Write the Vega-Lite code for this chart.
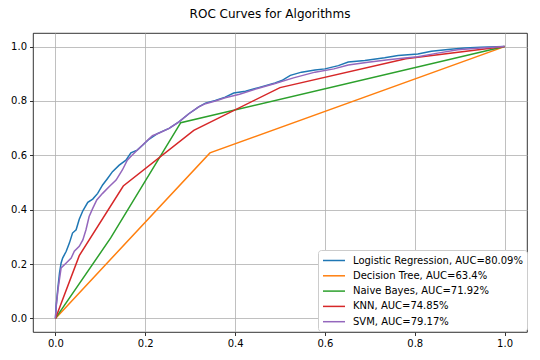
{
  "$schema": "https://vega.github.io/schema/vega-lite/v6.json",
  "autosize": "none",
  "width": 494,
  "height": 299,
  "padding": {"left": 33, "top": 33, "right": 13, "bottom": 28},
  "background": "white",
  "title": {"text": "ROC Curves for Algorithms", "font": "DejaVu Sans", "fontSize": 12, "fontWeight": "normal", "color": "black", "offset": 12, "anchor": "middle", "dx": -10},
  "config": {
    "view": {"stroke": "black", "strokeWidth": 0.8},
    "axis": {"domain": false, "grid": true, "gridColor": "#b0b0b0", "gridWidth": 0.8, "ticks": true, "tickColor": "black", "tickSize": 3.5, "tickWidth": 0.8, "labelFont": "DejaVu Sans", "labelFontSize": 10, "labelColor": "black", "title": null, "labelPadding": 3}
  },
  "data": {"values": [
    {"m":"Logistic Regression, AUC=80.09%","i":0,"x":0,"y":0},
    {"m":"Logistic Regression, AUC=80.09%","i":1,"x":0.0015,"y":0.045},
    {"m":"Logistic Regression, AUC=80.09%","i":2,"x":0.005,"y":0.106},
    {"m":"Logistic Regression, AUC=80.09%","i":3,"x":0.009,"y":0.167},
    {"m":"Logistic Regression, AUC=80.09%","i":4,"x":0.0126,"y":0.204},
    {"m":"Logistic Regression, AUC=80.09%","i":5,"x":0.016,"y":0.222},
    {"m":"Logistic Regression, AUC=80.09%","i":6,"x":0.024,"y":0.247},
    {"m":"Logistic Regression, AUC=80.09%","i":7,"x":0.031,"y":0.277},
    {"m":"Logistic Regression, AUC=80.09%","i":8,"x":0.038,"y":0.314},
    {"m":"Logistic Regression, AUC=80.09%","i":9,"x":0.046,"y":0.326},
    {"m":"Logistic Regression, AUC=80.09%","i":10,"x":0.053,"y":0.365},
    {"m":"Logistic Regression, AUC=80.09%","i":11,"x":0.061,"y":0.396},
    {"m":"Logistic Regression, AUC=80.09%","i":12,"x":0.072,"y":0.427},
    {"m":"Logistic Regression, AUC=80.09%","i":13,"x":0.083,"y":0.439},
    {"m":"Logistic Regression, AUC=80.09%","i":14,"x":0.094,"y":0.46},
    {"m":"Logistic Regression, AUC=80.09%","i":15,"x":0.105,"y":0.491},
    {"m":"Logistic Regression, AUC=80.09%","i":16,"x":0.116,"y":0.515},
    {"m":"Logistic Regression, AUC=80.09%","i":17,"x":0.127,"y":0.54},
    {"m":"Logistic Regression, AUC=80.09%","i":18,"x":0.142,"y":0.564},
    {"m":"Logistic Regression, AUC=80.09%","i":19,"x":0.157,"y":0.582},
    {"m":"Logistic Regression, AUC=80.09%","i":20,"x":0.168,"y":0.609},
    {"m":"Logistic Regression, AUC=80.09%","i":21,"x":0.182,"y":0.619},
    {"m":"Logistic Regression, AUC=80.09%","i":22,"x":0.194,"y":0.637},
    {"m":"Logistic Regression, AUC=80.09%","i":23,"x":0.208,"y":0.659},
    {"m":"Logistic Regression, AUC=80.09%","i":24,"x":0.227,"y":0.68},
    {"m":"Logistic Regression, AUC=80.09%","i":25,"x":0.253,"y":0.699},
    {"m":"Logistic Regression, AUC=80.09%","i":26,"x":0.275,"y":0.723},
    {"m":"Logistic Regression, AUC=80.09%","i":27,"x":0.297,"y":0.753},
    {"m":"Logistic Regression, AUC=80.09%","i":28,"x":0.319,"y":0.778},
    {"m":"Logistic Regression, AUC=80.09%","i":29,"x":0.334,"y":0.792},
    {"m":"Logistic Regression, AUC=80.09%","i":30,"x":0.356,"y":0.802},
    {"m":"Logistic Regression, AUC=80.09%","i":31,"x":0.378,"y":0.814},
    {"m":"Logistic Regression, AUC=80.09%","i":32,"x":0.397,"y":0.829},
    {"m":"Logistic Regression, AUC=80.09%","i":33,"x":0.423,"y":0.836},
    {"m":"Logistic Regression, AUC=80.09%","i":34,"x":0.452,"y":0.849},
    {"m":"Logistic Regression, AUC=80.09%","i":35,"x":0.489,"y":0.866},
    {"m":"Logistic Regression, AUC=80.09%","i":36,"x":0.504,"y":0.875},
    {"m":"Logistic Regression, AUC=80.09%","i":37,"x":0.523,"y":0.894},
    {"m":"Logistic Regression, AUC=80.09%","i":38,"x":0.548,"y":0.906},
    {"m":"Logistic Regression, AUC=80.09%","i":39,"x":0.578,"y":0.914},
    {"m":"Logistic Regression, AUC=80.09%","i":40,"x":0.6,"y":0.918},
    {"m":"Logistic Regression, AUC=80.09%","i":41,"x":0.63,"y":0.93},
    {"m":"Logistic Regression, AUC=80.09%","i":42,"x":0.652,"y":0.943},
    {"m":"Logistic Regression, AUC=80.09%","i":43,"x":0.689,"y":0.949},
    {"m":"Logistic Regression, AUC=80.09%","i":44,"x":0.733,"y":0.959},
    {"m":"Logistic Regression, AUC=80.09%","i":45,"x":0.763,"y":0.967},
    {"m":"Logistic Regression, AUC=80.09%","i":46,"x":0.807,"y":0.973},
    {"m":"Logistic Regression, AUC=80.09%","i":47,"x":0.837,"y":0.983},
    {"m":"Logistic Regression, AUC=80.09%","i":48,"x":0.874,"y":0.989},
    {"m":"Logistic Regression, AUC=80.09%","i":49,"x":0.911,"y":0.995},
    {"m":"Logistic Regression, AUC=80.09%","i":50,"x":0.947,"y":0.998},
    {"m":"Logistic Regression, AUC=80.09%","i":51,"x":1,"y":1},
    {"m":"Decision Tree, AUC=63.4%","i":0,"x":0,"y":0},
    {"m":"Decision Tree, AUC=63.4%","i":1,"x":0.344,"y":0.609},
    {"m":"Decision Tree, AUC=63.4%","i":2,"x":1,"y":1},
    {"m":"Naive Bayes, AUC=71.92%","i":0,"x":0,"y":0},
    {"m":"Naive Bayes, AUC=71.92%","i":1,"x":0.123,"y":0.296},
    {"m":"Naive Bayes, AUC=71.92%","i":2,"x":0.279,"y":0.72},
    {"m":"Naive Bayes, AUC=71.92%","i":3,"x":1,"y":1},
    {"m":"KNN, AUC=74.85%","i":0,"x":0,"y":0},
    {"m":"KNN, AUC=74.85%","i":1,"x":0.053,"y":0.231},
    {"m":"KNN, AUC=74.85%","i":2,"x":0.151,"y":0.487},
    {"m":"KNN, AUC=74.85%","i":3,"x":0.308,"y":0.692},
    {"m":"KNN, AUC=74.85%","i":4,"x":0.5,"y":0.849},
    {"m":"KNN, AUC=74.85%","i":5,"x":0.78,"y":0.955},
    {"m":"KNN, AUC=74.85%","i":6,"x":1,"y":1},
    {"m":"SVM, AUC=79.17%","i":0,"x":0,"y":0},
    {"m":"SVM, AUC=79.17%","i":1,"x":0.002,"y":0.05},
    {"m":"SVM, AUC=79.17%","i":2,"x":0.006,"y":0.11},
    {"m":"SVM, AUC=79.17%","i":3,"x":0.0126,"y":0.186},
    {"m":"SVM, AUC=79.17%","i":4,"x":0.024,"y":0.204},
    {"m":"SVM, AUC=79.17%","i":5,"x":0.035,"y":0.222},
    {"m":"SVM, AUC=79.17%","i":6,"x":0.042,"y":0.247},
    {"m":"SVM, AUC=79.17%","i":7,"x":0.053,"y":0.265},
    {"m":"SVM, AUC=79.17%","i":8,"x":0.061,"y":0.289},
    {"m":"SVM, AUC=79.17%","i":9,"x":0.068,"y":0.326},
    {"m":"SVM, AUC=79.17%","i":10,"x":0.075,"y":0.375},
    {"m":"SVM, AUC=79.17%","i":11,"x":0.083,"y":0.405},
    {"m":"SVM, AUC=79.17%","i":12,"x":0.092,"y":0.436},
    {"m":"SVM, AUC=79.17%","i":13,"x":0.105,"y":0.46},
    {"m":"SVM, AUC=79.17%","i":14,"x":0.12,"y":0.485},
    {"m":"SVM, AUC=79.17%","i":15,"x":0.135,"y":0.509},
    {"m":"SVM, AUC=79.17%","i":16,"x":0.149,"y":0.546},
    {"m":"SVM, AUC=79.17%","i":17,"x":0.16,"y":0.582},
    {"m":"SVM, AUC=79.17%","i":18,"x":0.171,"y":0.601},
    {"m":"SVM, AUC=79.17%","i":19,"x":0.186,"y":0.625},
    {"m":"SVM, AUC=79.17%","i":20,"x":0.201,"y":0.649},
    {"m":"SVM, AUC=79.17%","i":21,"x":0.216,"y":0.672},
    {"m":"SVM, AUC=79.17%","i":22,"x":0.231,"y":0.682},
    {"m":"SVM, AUC=79.17%","i":23,"x":0.253,"y":0.699},
    {"m":"SVM, AUC=79.17%","i":24,"x":0.275,"y":0.723},
    {"m":"SVM, AUC=79.17%","i":25,"x":0.297,"y":0.753},
    {"m":"SVM, AUC=79.17%","i":26,"x":0.319,"y":0.778},
    {"m":"SVM, AUC=79.17%","i":27,"x":0.334,"y":0.79},
    {"m":"SVM, AUC=79.17%","i":28,"x":0.356,"y":0.8},
    {"m":"SVM, AUC=79.17%","i":29,"x":0.378,"y":0.812},
    {"m":"SVM, AUC=79.17%","i":30,"x":0.41,"y":0.825},
    {"m":"SVM, AUC=79.17%","i":31,"x":0.452,"y":0.847},
    {"m":"SVM, AUC=79.17%","i":32,"x":0.489,"y":0.864},
    {"m":"SVM, AUC=79.17%","i":33,"x":0.53,"y":0.885},
    {"m":"SVM, AUC=79.17%","i":34,"x":0.578,"y":0.906},
    {"m":"SVM, AUC=79.17%","i":35,"x":0.62,"y":0.918},
    {"m":"SVM, AUC=79.17%","i":36,"x":0.652,"y":0.932},
    {"m":"SVM, AUC=79.17%","i":37,"x":0.696,"y":0.942},
    {"m":"SVM, AUC=79.17%","i":38,"x":0.741,"y":0.952},
    {"m":"SVM, AUC=79.17%","i":39,"x":0.778,"y":0.958},
    {"m":"SVM, AUC=79.17%","i":40,"x":0.807,"y":0.963},
    {"m":"SVM, AUC=79.17%","i":41,"x":0.851,"y":0.976},
    {"m":"SVM, AUC=79.17%","i":42,"x":0.896,"y":0.988},
    {"m":"SVM, AUC=79.17%","i":43,"x":0.947,"y":0.995},
    {"m":"SVM, AUC=79.17%","i":44,"x":1,"y":1}
  ]},
  "mark": {"type": "line", "strokeWidth": 1.5, "clip": true},
  "encoding": {
    "x": {"field": "x", "type": "quantitative", "scale": {"domain": [-0.05, 1.05], "nice": false, "zero": false}, "axis": {"values": [0, 0.2, 0.4, 0.6, 0.8, 1.0], "format": ".1f"}},
    "y": {"field": "y", "type": "quantitative", "scale": {"domain": [-0.05, 1.05], "nice": false, "zero": false}, "axis": {"values": [0, 0.2, 0.4, 0.6, 0.8, 1.0], "format": ".1f"}},
    "order": {"field": "i", "type": "quantitative"},
    "color": {
      "field": "m", "type": "nominal",
      "scale": {"domain": ["Logistic Regression, AUC=80.09%", "Decision Tree, AUC=63.4%", "Naive Bayes, AUC=71.92%", "KNN, AUC=74.85%", "SVM, AUC=79.17%"], "range": ["#1f77b4", "#ff7f0e", "#2ca02c", "#d62728", "#9467bd"]},
      "legend": {"title": null, "orient": "none", "legendX": 285, "legendY": 217, "symbolType": "M-1,0H3", "symbolSize": 121, "symbolStrokeWidth": 1.5, "symbolFillColor": "transparent", "labelFont": "DejaVu Sans", "labelFontSize": 10, "labelColor": "black", "labelLimit": 0, "rowPadding": 3.3, "padding": 4, "fillColor": "white", "strokeColor": "#cccccc", "cornerRadius": 3, "symbolOffset": 0, "labelOffset": 18}
    }
  }
}
